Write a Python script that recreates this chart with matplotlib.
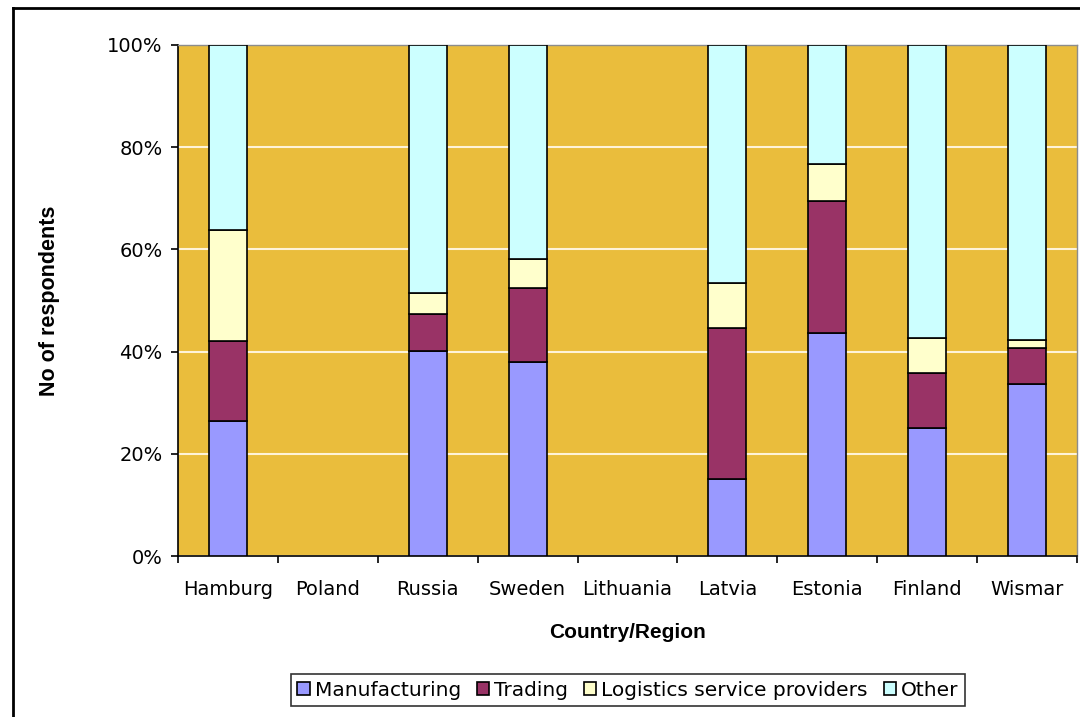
import matplotlib
matplotlib.use('Agg')
import matplotlib.pyplot as plt
import matplotlib.lines as mlines
import numpy as np

regions = ['Hamburg', 'Poland', 'Russia', 'Sweden', 'Lithuania', 'Latvia',
           'Estonia', 'Finland', 'Wismar']
manufacturing = [26.4, 0, 40.2, 38.0, 0, 15.0, 43.6, 25.0, 33.7]
trading = [15.7, 0, 7.1, 14.5, 0, 29.6, 25.9, 10.9, 7.1]
logistics = [21.7, 0, 4.1, 5.6, 0, 8.9, 7.3, 6.8, 1.5]
other = [36.2, 0, 48.6, 41.9, 0, 46.5, 23.2, 57.3, 57.7]

series = [('Manufacturing', manufacturing, '#9999FF'),
          ('Trading', trading, '#993366'),
          ('Logistics service providers', logistics, '#FFFFCC'),
          ('Other', other, '#CCFFFF')]

plt.rcParams['font.family'] = ['DejaVu Sans']

fig = plt.figure(figsize=(10.8, 7.17), dpi=100)
ax = fig.add_axes([178 / 1080, 1 - 556 / 717, 899 / 1080, 511 / 717])
ax.set_facecolor('#EABD3C')

x = np.arange(len(regions))
bottom = np.zeros(len(regions))
for name, vals, color in series:
    vals = np.array(vals)
    # no outline for empty categories
    lw = [1.2 if v > 0 else 0 for v in vals]
    ax.bar(x, vals, 0.38, bottom=bottom, color=color, edgecolor='black',
           linewidth=lw, label=name, zorder=3)
    bottom += vals

ax.set_xlim(-0.5, len(regions) - 0.5)
ax.set_ylim(0, 100)
ax.set_yticks(np.arange(0, 101, 20))
ax.set_yticklabels(['{}%'.format(v) for v in range(0, 101, 20)], fontsize=14)
ax.yaxis.grid(True, color='#FFF3D8', linewidth=1.5, zorder=1)
ax.set_axisbelow(True)

ax.set_xticks(x)
ax.set_xticklabels(regions, fontsize=14)
ax.set_xticks(np.arange(-0.5, len(regions), 1), minor=True)
ax.tick_params(axis='x', which='major', length=0, pad=17)
ax.tick_params(axis='x', which='minor', length=5, direction='out', width=1.2)
ax.tick_params(axis='y', length=5, direction='out', width=1.2, pad=6)

for side in ['top', 'right']:
    ax.spines[side].set_color('#8C8C8C')
    ax.spines[side].set_linewidth(1)
for side in ['left', 'bottom']:
    ax.spines[side].set_color('black')
    ax.spines[side].set_linewidth(1.2)

ax.set_xlabel('Country/Region', fontsize=15, fontweight='bold',
              family='Liberation Sans')
ax.xaxis.set_label_coords(0.5, (556 - 632) / 511, transform=ax.transAxes)
ax.xaxis.label.set_va('center')
ax.set_ylabel('No of respondents', fontsize=15.5, fontweight='bold',
              family='Liberation Sans')
ax.yaxis.set_label_coords((50 - 178) / 899, 0.5, transform=ax.transAxes)
ax.yaxis.label.set_va('center')

leg = fig.legend(loc='center', bbox_to_anchor=(628 / 1080, 1 - 690 / 717),
                 ncol=4, fontsize=14.5, frameon=True, fancybox=False,
                 handlelength=0.6, handleheight=0.6, handletextpad=0.25,
                 columnspacing=0.8, borderpad=0.3, borderaxespad=0)
leg.get_frame().set_edgecolor('black')
leg.get_frame().set_linewidth(1.2)

# outer chart border
fig.add_artist(mlines.Line2D([13 / 1080, 13 / 1080], [0, 1 - 8 / 717],
                             color='black', linewidth=2, transform=fig.transFigure))
fig.add_artist(mlines.Line2D([13 / 1080, 1], [1 - 8 / 717, 1 - 8 / 717],
                             color='black', linewidth=2, transform=fig.transFigure))

fig.savefig('out.png', dpi=100, facecolor='white')
